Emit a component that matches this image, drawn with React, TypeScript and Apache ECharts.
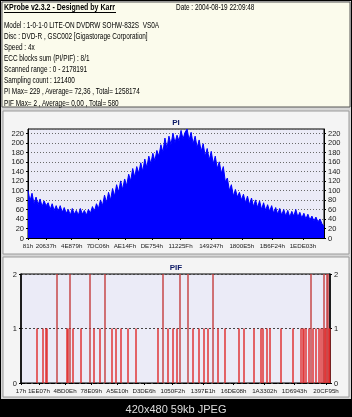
import React, { useEffect, useRef } from "react";
import * as echarts from "echarts";

const HEADER_TITLE = "KProbe v2.3.2 - Designed by Karr";
const HEADER_DATE = "Date : 2004-08-19 22:09:48";
const HEADER_LINES = [
  "Model : 1-0-1-0 LITE-ON DVDRW SOHW-832S  VS0A",
  "Disc : DVD-R , GSC002 [Gigastorage Corporation]",
  "Speed : 4x",
  "ECC blocks sum (PI/PIF) : 8/1",
  "Scanned range : 0 - 2178191",
  "Sampling count : 121400",
  "PI Max= 229 , Average= 72,36 , Total= 1258174",
  "PIF Max= 2 , Average= 0,00 , Total= 580",
];
const FOOTER = "420x480 59kb JPEG";

const SCAN_END = 2178191;
const PI_MAX = 229;

const PI_TICKS = ["81h", "20637h", "4E879h", "7DC06h", "AE14Fh", "DE754h", "11225Fh", "149247h", "1800E5h", "1B6F24h", "1EDE03h"];
const PIF_TICKS = ["17h", "1EE07h", "4BD0Eh", "78E09h", "A5E10h", "D3DE6h", "1050F2h", "1397E1h", "16DE08h", "1A3302h", "1D6943h", "20CF95h"];

// PI samples, evenly spread over the scanned range
const PI_VALUES = [
  100, 78, 94, 72, 86,
  70, 82, 66, 78, 68,
  74, 60, 72, 58, 68,
  56, 68, 54, 64, 52,
  60, 48, 62, 50, 58,
  48, 62, 50, 58, 48,
  60, 52, 66, 56, 72,
  62, 80, 68, 90, 74,
  96, 80, 104, 88, 112,
  96, 120, 102, 124, 110,
  134, 120, 146, 128, 150,
  136, 158, 140, 166, 148,
  172, 156, 178, 162, 184,
  172, 196, 180, 210, 188,
  214, 196, 220, 200, 216,
  204, 226, 208, 222, 229,
  206, 222, 198, 214, 190,
  206, 182, 198, 172, 188,
  164, 182, 156, 172, 146,
  160, 136, 150, 118, 126,
  100, 112, 88, 102, 86,
  96, 80, 92, 74, 88,
  70, 84, 66, 80, 64,
  78, 60, 74, 58, 70,
  56, 68, 52, 64, 50,
  62, 48, 60, 46, 58,
  44, 56, 46, 60, 44,
  54, 42, 52, 40, 50,
  38, 46, 36, 44, 34,
  40, 30, 24,
];

// PIF events: LBA positions and counts
const PIF_POS = [
  112800, 155100, 176200, 183300, 253800, 324300, 331300, 345400, 366600, 423000,
  486400, 514600, 556900, 592100, 641500, 669700, 704900, 754300, 810700, 965700,
  1001000, 1036200, 1071500, 1099700, 1120800, 1177200, 1212500, 1254800, 1290000, 1318200,
  1353500, 1388700, 1438000, 1536700, 1572000, 1642500, 1691800, 1705900, 1734100, 1755300,
  1832800, 1917400, 1973800, 1987900, 1994900, 2009000, 2030200, 2044300, 2058400, 2079500,
  2100700, 2114800, 2128900, 2135900, 2143000, 2150000, 2157100, 2164100, 2171200, 2176500,
];
const PIF_VAL = [
  1, 1, 1, 1, 2, 1, 1, 2, 1, 1,
  2, 1, 1, 2, 1, 1, 1, 1, 1, 1,
  2, 1, 1, 1, 2, 2, 1, 1, 1, 1,
  2, 1, 1, 1, 1, 1, 1, 1, 1, 1,
  1, 1, 1, 1, 1, 1, 1, 2, 1, 1,
  1, 1, 1, 2, 1, 1, 2, 2, 1, 1,
];

const SANS = "'Liberation Sans', Arial, sans-serif";

export default function App() {
  const ref = useRef<HTMLDivElement>(null);
  useEffect(() => {
    if (!ref.current) return;
    const chart = echarts.init(ref.current, undefined, { renderer: "svg" });
    const hexVal = (s: string) => parseInt(s.replace(/h$/, ""), 16);
    const toHex = (v: number) => Math.round(v).toString(16).toUpperCase() + "h";
    const piData = PI_VALUES.map((v, i) => [(i * SCAN_END) / (PI_VALUES.length - 1), v]);
    const pifData = PIF_POS.map((p, i) => [p, PIF_VAL[i]]);

    const xLabel = {
      fontFamily: SANS,
      fontSize: 6.2,
      color: "#1a1a1a",
      margin: 4,
      formatter: (v: number) => toHex(v),
      showMinLabel: true,
      showMaxLabel: true,
      hideOverlap: false,
    };
    const yLabel = { fontFamily: SANS, fontSize: 7.5, color: "#1a1a1a", margin: 4 };

    const headerText = (t: string, x: number, y: number, bold: boolean) => ({
      type: "text", x, y, scaleX: bold ? 0.8 : 0.73,
      style: { text: t, fill: "#000", font: `${bold ? "bold " : ""}8.8px ${SANS}`, verticalAlign: "middle" },
    });

    const graphics: any[] = [
      { type: "rect", z: -100, shape: { x: 0, y: 0, width: 352, height: 417 }, style: { fill: "#000" } },
      { type: "rect", z: -99, shape: { x: 1, y: 1, width: 350, height: 398 }, style: { fill: "#d6d6d6" } },
      { type: "rect", z: -98, shape: { x: 2, y: 2, width: 348, height: 105 }, style: { fill: "#fbfbec", stroke: "#555", lineWidth: 1 } },
      { type: "rect", z: -98, shape: { x: 3, y: 111, width: 346, height: 143 }, style: { fill: "#f4f4f4", stroke: "#9a9a9a", lineWidth: 1 } },
      { type: "rect", z: -98, shape: { x: 3, y: 257, width: 346, height: 140 }, style: { fill: "#f4f4f4", stroke: "#9a9a9a", lineWidth: 1 } },
      { type: "rect", z: -98, shape: { x: 0, y: 400, width: 352, height: 17 }, style: { fill: "#000" } },
      headerText(HEADER_TITLE, 4, 7, true),
      { type: "line", shape: { x1: 4, y1: 12.5, x2: 116, y2: 12.5 }, style: { stroke: "#000", lineWidth: 1 } },
      headerText(HEADER_DATE, 176, 7, false),
      ...HEADER_LINES.map((t, i) => headerText(t, 4, 25 + i * 11.1, false)),
      {
        type: "text", x: 176, y: 122,
        style: { text: "PI", fill: "#0c1a66", font: `bold 8px ${SANS}`, align: "center", verticalAlign: "middle" },
      },
      {
        type: "text", x: 176, y: 267,
        style: { text: "PIF", fill: "#0c1a66", font: `bold 8px ${SANS}`, align: "center", verticalAlign: "middle" },
      },
      {
        type: "text", x: 176, y: 409,
        style: { text: FOOTER, fill: "#dedede", font: `11px ${SANS}`, align: "center", verticalAlign: "middle" },
      },
    ];

    chart.setOption({
      animation: false,
      graphic: graphics,
      grid: [
        { left: 28, top: 129, width: 296, height: 109, show: true, backgroundColor: "#ebebf7", borderColor: "#000", borderWidth: 1 },
        { left: 21, top: 274, width: 309, height: 109, show: true, backgroundColor: "#ebebf7", borderColor: "#000", borderWidth: 1 },
      ],
      xAxis: [
        {
          type: "value", gridIndex: 0, min: 0, max: SCAN_END,
          axisLine: { show: true, lineStyle: { color: "#000" } },
          axisTick: { show: true, customValues: PI_TICKS.map(hexVal), length: 2, lineStyle: { color: "#000" } },
          axisLabel: { ...xLabel, customValues: PI_TICKS.map(hexVal) },
          splitLine: { show: false },
        },
        {
          type: "value", gridIndex: 1, min: 0, max: SCAN_END,
          axisLine: { show: true, lineStyle: { color: "#000", type: "dashed" } },
          axisTick: { show: true, customValues: PIF_TICKS.map(hexVal), length: 2, lineStyle: { color: "#000" } },
          axisLabel: { ...xLabel, customValues: PIF_TICKS.map(hexVal) },
          splitLine: { show: false },
        },
      ],
      yAxis: [
        {
          type: "value", gridIndex: 0, min: 0, max: PI_MAX, interval: 20, position: "left",
          axisLine: { show: true, lineStyle: { color: "#000" } },
          axisTick: { show: true, length: 2, lineStyle: { color: "#000" } },
          axisLabel: { ...yLabel, showMaxLabel: false },
          splitLine: { show: true, lineStyle: { color: "#6a6a6a", type: [1, 2], width: 1 } },
        },
        {
          type: "value", gridIndex: 0, min: 0, max: PI_MAX, interval: 20, position: "right",
          axisLine: { show: true, lineStyle: { color: "#000" } },
          axisTick: { show: true, length: 2, lineStyle: { color: "#000" } },
          axisLabel: { ...yLabel, showMaxLabel: false },
          splitLine: { show: false },
        },
        {
          type: "value", gridIndex: 1, min: 0, max: 2, interval: 1, position: "left",
          axisLine: { show: true, lineStyle: { color: "#000", width: 1.5 } },
          axisTick: { show: true, length: 2, lineStyle: { color: "#000" } },
          axisLabel: yLabel,
          splitLine: { show: true, lineStyle: { color: "#444", type: [2, 2], width: 1 } },
        },
        {
          type: "value", gridIndex: 1, min: 0, max: 2, interval: 1, position: "right",
          axisLine: { show: true, lineStyle: { color: "#000", width: 1.5 } },
          axisTick: { show: true, length: 2, lineStyle: { color: "#000" } },
          axisLabel: yLabel,
          splitLine: { show: false },
        },
      ],
      series: [
        {
          type: "line", xAxisIndex: 0, yAxisIndex: 0, data: piData, symbol: "none",
          lineStyle: { color: "#0000ff", width: 1 },
          areaStyle: { color: "#0000ff", opacity: 1 },
          silent: true,
        },
        {
          type: "bar", xAxisIndex: 1, yAxisIndex: 2, data: pifData, barWidth: 1.4,
          itemStyle: {
            color: (p: any) => (p.value[1] === 2 ? "#c43c3c" : "#e02828"),
          },
          silent: true,
        },
      ],
    });
    return () => chart.dispose();
  }, []);
  return <div ref={ref} style={{ position: "fixed", left: 0, top: 0, width: 352, height: 417 }} />;
}
